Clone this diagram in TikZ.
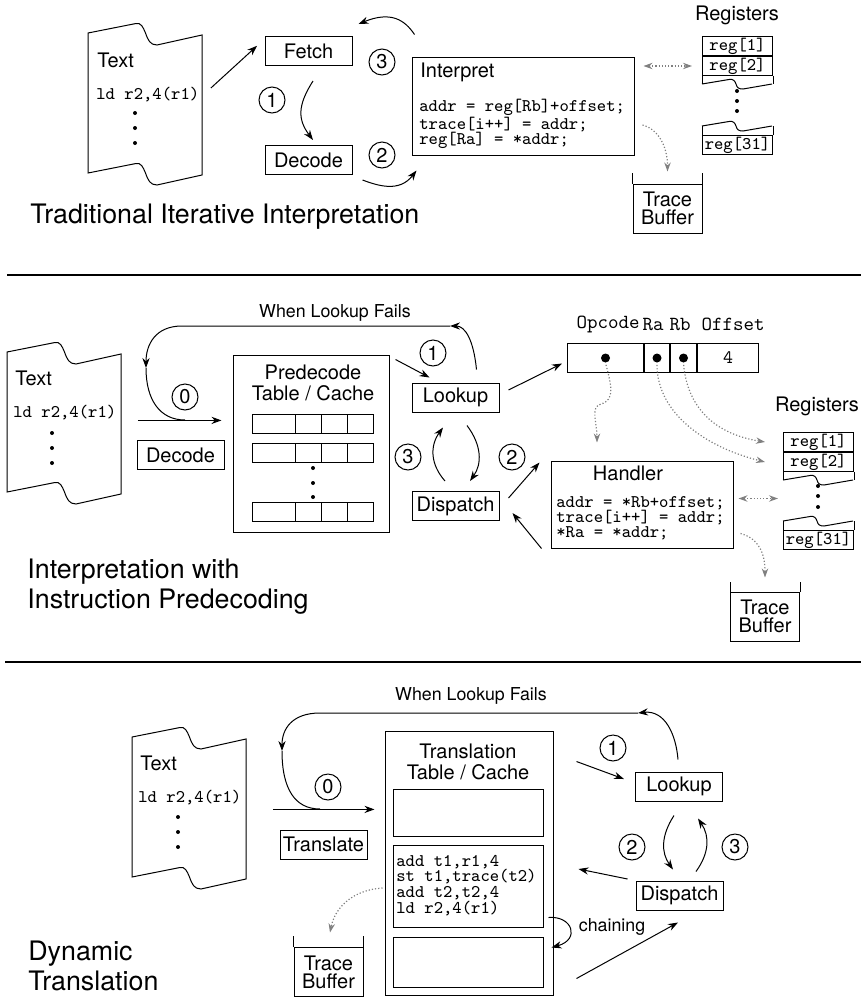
\documentclass[tikz,border=0pt]{standalone}
\usepackage{fontspec}
\setmainfont{TeX Gyre Heros}
\usepackage{tikz}
\usetikzlibrary{arrows.meta, positioning, calc}

% wavy outline of a page of text, drawn round an empty node
\newcommand{\paperoutline}[1]{%
  \draw[line width=0.5pt, shift={(#1.north west)}] (0,0) -- (48,-9.5)
    .. controls (53,-10.5) and (55,-6) .. (57.5,0)
    .. controls (60,7) and (62,12) .. (69,12) -- (114,2) -- (114,142)
    -- (69,152) .. controls (62,152) and (60,147) .. (57.5,140)
    .. controls (55,134) and (53,129.5) .. (48,130.5) -- (0,140) -- cycle;}
% torn edge of the register file
\newcommand{\tearline}[1]{%
  \draw[line width=0.5pt, shift={(#1)}] (0,0) -- (27,-4.5)
    .. controls (31,-5.5) and (33,-3) .. (34,0)
    .. controls (35,4) and (37,5) .. (41,5) -- (70,0);}

\tikzset{
    % boxes for the steps
    opbox/.style={draw, line width=0.5pt, inner sep=0pt,
        minimum width=43.5pt, minimum height=14.5pt,
        font=\fontsize{10}{12}\selectfont},
    % numbered circles
    stepnum/.style={circle, draw, line width=0.5pt, inner sep=0pt,
        minimum size=13pt, font=\fontsize{10}{12}\selectfont},
    bigbox/.style={draw, line width=0.5pt, inner sep=0pt},
    paper/.style={anchor=north west, inner sep=0pt,
        minimum width=57pt, minimum height=70pt},
    regcell/.style={draw, line width=0.5pt, inner sep=0pt,
        minimum width=35pt, minimum height=9.5pt,
        font=\fontsize{8.9}{10}\selectfont\ttfamily},
    fieldcell/.style={draw, line width=0.5pt, inner sep=0pt,
        minimum height=14.5pt, font=\fontsize{9.5}{10}\selectfont\ttfamily},
    fielddot/.style={circle, fill, inner sep=0pt, minimum size=4.5pt},
    fieldlabel/.style={inner sep=0pt, font=\fontsize{10}{12}\selectfont\ttfamily},
    buffer/.style={draw, line width=0.5pt, inner sep=0pt, align=center,
        minimum width=34.5pt, minimum height=24.5pt,
        font=\fontsize{10}{9}\selectfont},
    codetext/.style={inner sep=0pt, align=left,
        font=\fontsize{8.9}{7.6}\selectfont\ttfamily},
    boxlabel/.style={inner sep=0pt, font=\fontsize{10}{12}\selectfont},
    smalllabel/.style={inner sep=0pt, font=\fontsize{8.9}{10}\selectfont},
    sectitle/.style={inner sep=0pt, anchor=west, align=left,
        font=\fontsize{13.4}{15}\selectfont},
    % arrows
    arrow/.style={-{Stealth[length=5pt, width=3.6pt]}, line width=0.5pt},
    dotarrow/.style={-{Stealth[length=4.5pt, width=3.2pt]}, densely dotted,
        draw=gray, line width=0.6pt},
    dotboth/.style={dotarrow,
        {Stealth[length=4.5pt, width=3.2pt]}-{Stealth[length=4.5pt, width=3.2pt]}},
}

\begin{document}
\begin{tikzpicture}[x=0.5pt, y=-0.5pt]
    \useasboundingbox (0,0) rectangle (861,997);

    % ---------- traditional iterative interpretation ----------
    \node[paper] (paperA) at (88,33) {};
    \paperoutline{paperA}
    \node[boxlabel, anchor=west] (textA) at ([shift={(9,27)}]paperA.north west) {Text};
    \node[codetext, anchor=west] (ldA) at ([shift={(8,62)}]paperA.north west) {ld r2,4(r1)};
    \foreach \d in {80,95,110} \fill ([shift={(47,\d)}]paperA.north west) circle (1pt);

    \node[opbox] (fetchA) at (308.5,51) {Fetch};
    \node[opbox] (decodeA) at (308.5,160) {Decode};
    \node[stepnum] (oneA) at (272,100) {1};
    \node[stepnum] (twoA) at (382,155) {2};
    \node[stepnum] (threeA) at (382,62) {3};

    \node[bigbox, minimum width=111pt, minimum height=49pt] (interpA) at (523,106) {};
    \node[boxlabel, anchor=west] (interpT) at (420,72) {Interpret};
    \node[codetext, anchor=west] (interpC) at (419,124)
        {addr = reg[Rb]+offset;\\trace[i++] = addr;\\reg[Ra] = *addr;};

    \node[boxlabel] (regsA) at (737,15) {Registers};
    \node[regcell, anchor=north west] (regA1) at (702,36) {reg[1]};
    \node[regcell, anchor=north] (regA2) at (regA1.south) {reg[2]};
    \draw[line width=0.5pt] (regA2.south west) -- ++(0,8) coordinate (tearA1);
    \draw[line width=0.5pt] (regA2.south east) -- ++(0,8);
    \tearline{tearA1}
    \foreach \d in {91,101,111} \fill (737,\d) circle (1pt);
    \node[regcell, anchor=north west] (regA31) at (702,135) {reg[31]};
    \draw[line width=0.5pt] (regA31.north west) -- ++(0,-9) coordinate (tearA2);
    \draw[line width=0.5pt] (regA31.north east) -- ++(0,-9);
    \tearline{tearA2}

    \node[buffer] (bufA) at (667.5,208.5) {Trace\\Buffer};
    \draw[line width=0.5pt] (bufA.north west) -- ++(0,-11);
    \draw[line width=0.5pt] (bufA.north east) -- ++(0,-11);

    \draw[arrow, shorten <=5.5pt, shorten >=5pt] ([yshift=4pt]paperA.east) -- ([yshift=6pt]fetchA.west);
    \draw[arrow] ([shift={(4.5,15)}]fetchA.south) .. controls +(-16,25) and +(-15,-20) .. ([shift={(4.5,-5)}]decodeA.north);
    \draw[arrow] ([shift={(10,5)}]decodeA.south east) .. controls +(16,6) and +(-17,22) .. ([shift={(5,15)}]interpA.south west);
    \draw[arrow] ([shift={(3,-22)}]interpA.north west) .. controls +(-10,-15) and +(32,-13) .. ([shift={(6,-12)}]fetchA.north east);
    \draw[dotboth, shorten <=4.5pt, shorten >=5pt] (interpA.east |- regA2.west) -- (regA2.west);
    \draw[dotarrow] ([shift={(8,19)}]interpA.east) .. controls +(18,5) and +(0,-22) .. ([yshift=6pt]bufA.north);

    \node[sectitle] (titleA) at (30,217) {Traditional Iterative Interpretation};
    \draw[line width=0.7pt] (7,275) -- (861,275);

    % ---------- interpretation with predecoding ----------
    \node[paper] (paperB) at (7,352) {};
    \paperoutline{paperB}
    \node[boxlabel, anchor=west] (textB) at ([shift={(8,26)}]paperB.north west) {Text};
    \node[codetext, anchor=west] (ldB) at ([shift={(6,61)}]paperB.north west) {ld r2,4(r1)};
    \foreach \d in {81,96,111} \fill ([shift={(45,\d)}]paperB.north west) circle (1pt);

    \node[opbox] (decodeB) at (180.5,455) {Decode};
    \node[stepnum] (zeroB) at (185,397) {0};

    \node[bigbox, minimum width=78pt, minimum height=88.5pt] (predecB) at (311,443.5) {};
    \node[boxlabel, align=center, font=\fontsize{10}{10.5}\selectfont] (predecT) at (313,383) {Predecode\\Table / Cache};
    \foreach \y in {414,443,502} {
        \draw[line width=0.5pt] (252,\y) rectangle (373,\y+19);
        \foreach \x in {295,321,347} \draw[line width=0.5pt] (\x,\y) -- (\x,\y+19);
    }
    \foreach \d in {468,483,497} \fill (313,\d) circle (1pt);

    \node[opbox] (lookupB) at (455.5,397.5) {Lookup};
    \node[opbox] (dispatchB) at (455.5,506) {Dispatch};
    \node[stepnum] (oneB) at (433,353) {1};
    \node[stepnum] (twoB) at (512,457) {2};
    \node[stepnum] (threeB) at (408,457) {3};

    \node[fieldcell, minimum width=38pt, anchor=north west] (opB) at (567,343) {};
    \node[fieldcell, minimum width=12.5pt, anchor=west] (raB) at (opB.east) {};
    \node[fieldcell, minimum width=13pt, anchor=west] (rbB) at (raB.east) {};
    \node[fieldcell, minimum width=30.5pt, anchor=west] (offB) at (rbB.east) {4};
    \node[fielddot] (dotOp) at (opB.center) {};
    \node[fielddot] (dotRa) at (raB.center) {};
    \node[fielddot] (dotRb) at (rbB.center) {};
    \node[fieldlabel] (labOp) at (608,324) {Opcode};
    \node[fieldlabel] (labRa) at (653,324) {Ra};
    \node[fieldlabel] (labRb) at (680,324) {Rb};
    \node[fieldlabel] (labOff) at (733,324) {Offset};

    \node[bigbox, minimum width=91pt, minimum height=43.5pt] (handlerB) at (642,504.5) {};
    \node[boxlabel] (handlerT) at (628,473) {Handler};
    \node[codetext, anchor=west] (handlerC) at (556,518)
        {addr = *Rb+offset;\\trace[i++] = addr;\\\relax *Ra = *addr;};

    \node[boxlabel] (regsB) at (817,406) {Registers};
    \node[regcell, anchor=north west] (regB1) at (783,432) {reg[1]};
    \node[regcell, anchor=north] (regB2) at (regB1.south) {reg[2]};
    \draw[line width=0.5pt] (regB2.south west) -- ++(0,8) coordinate (tearB1);
    \draw[line width=0.5pt] (regB2.south east) -- ++(0,8);
    \tearline{tearB1}
    \foreach \d in {486,496,507} \fill (818,\d) circle (1pt);
    \node[regcell, anchor=north west] (regB31) at (783,530) {reg[31]};
    \draw[line width=0.5pt] (regB31.north west) -- ++(0,-9) coordinate (tearB2);
    \draw[line width=0.5pt] (regB31.north east) -- ++(0,-9);
    \tearline{tearB2}

    \node[buffer] (bufB) at (765,616.5) {Trace\\Buffer};
    \draw[line width=0.5pt] (bufB.north west) -- ++(0,-10);
    \draw[line width=0.5pt] (bufB.north east) -- ++(0,-10);

    \coordinate (failB) at (450,326);
    \coordinate (backB) at (146,368);
    \coordinate (joinB) at (185,420);
    \coordinate (bendOp) at (601,404);
    \draw[arrow, shorten <=8pt, shorten >=5.5pt] ([yshift=1pt]paperB.east) -- ([yshift=1pt]paperB.east -| predecB.west);
    \draw[arrow] ([shift={(21,-13)}]lookupB.north) .. controls +(-3,-30) and +(15,0) .. (failB);
    \draw[arrow] (failB) -- ++(-268,0) .. controls +(-27,0) and +(0,-23) .. (backB);
    \draw[line width=0.5pt] (backB) .. controls +(0,32) and +(-25,0) .. (joinB);
    \node[smalllabel] (failTB) at (335,313) {When Lookup Fails};
    \draw[arrow] ([shift={(6,5)}]predecB.north east) -- ([shift={(18,-5)}]lookupB.north west);
    \draw[arrow] ([shift={(11.5,13)}]lookupB.south) .. controls +(15,20) and +(12,-17) .. ([shift={(14.5,-10)}]dispatchB.north);
    \draw[arrow] ([shift={(-10.5,-10)}]dispatchB.north) .. controls +(-15,-17) and +(-13,18) .. ([shift={(-12.5,15)}]lookupB.south);
    \draw[arrow] ([shift={(9,-8)}]dispatchB.east) -- ([shift={(-11,2)}]handlerB.north west);
    \draw[arrow] ([shift={(-9,0)}]handlerB.south west) -- ([shift={(13,7)}]dispatchB.east);
    \draw[arrow] ([shift={(9,-7.5)}]lookupB.east) -- ([shift={(-5,5.5)}]opB.west);

    \draw[dotarrow, shorten <=1pt] (dotOp.south) .. controls +(6,23) and +(14,-4) .. (bendOp)
        .. controls +(-11,3) and +(0,-20) .. ([shift={(-45,-18)}]handlerB.north);
    \draw[dotarrow, shorten <=1pt] (dotRa.south) .. controls +(0,50) and +(-60,-15) .. ([xshift=-9pt]regB2.west);
    \draw[dotarrow, shorten <=1pt] (dotRb.south) .. controls +(4,45) and +(-50,-8) .. ([xshift=-9pt]regB1.west);
    \draw[dotboth, shorten <=2.5pt, shorten >=2.5pt] ($(handlerB.east)+(0,-6)$) -- ($(handlerB.east -| regB1.west)+(0,-6)$);
    \draw[dotarrow] ([shift={(7,29)}]handlerB.east) .. controls +(18,5) and +(0,-25) .. ([yshift=7pt]bufB.north);

    \node[sectitle] (titleB) at (27,587) {Interpretation with\\Instruction Predecoding};
    \draw[line width=0.7pt] (5,662) -- (861,662);

    % ---------- dynamic translation ----------
    \node[paper] (paperC) at (132,737) {};
    \paperoutline{paperC}
    \node[boxlabel, anchor=west] (textC) at ([shift={(8,26)}]paperC.north west) {Text};
    \node[codetext, anchor=west] (ldC) at ([shift={(6,61)}]paperC.north west) {ld r2,4(r1)};
    \foreach \d in {80,95,110} \fill ([shift={(46,\d)}]paperC.north west) circle (1pt);

    \node[opbox] (translC) at (323.5,844.5) {Translate};
    \node[stepnum] (zeroC) at (328,787) {0};

    \node[bigbox, minimum width=84pt, minimum height=132pt] (transC) at (469,863) {};
    \node[boxlabel, align=center, font=\fontsize{10}{10.5}\selectfont] (transT) at (468,761.5) {Translation\\Table / Cache};
    \node[bigbox, minimum width=75pt, minimum height=23.5pt] (slotC1) at (468,812.5) {};
    \node[bigbox, minimum width=75pt, minimum height=41pt] (slotC2) at (468,886) {};
    \node[bigbox, minimum width=75pt, minimum height=25pt] (slotC3) at (468,962) {};
    \node[codetext, anchor=west, font=\fontsize{8.9}{7.85}\selectfont\ttfamily] (slotCode) at (396,885.5)
        {add t1,r1,4\\st t1,trace(t2)\\add t2,t2,4\\ld r2,4(r1)};

    \node[opbox] (lookupC) at (679,786.5) {Lookup};
    \node[opbox] (dispatchC) at (679.5,895.5) {Dispatch};
    \node[stepnum] (oneC) at (613,748) {1};
    \node[stepnum] (twoC) at (632,847) {2};
    \node[stepnum] (threeC) at (735,847) {3};

    \node[buffer] (bufC) at (328.5,972) {Trace\\Buffer};
    \draw[line width=0.5pt] (bufC.north west) -- ++(0,-11);
    \draw[line width=0.5pt] (bufC.north east) -- ++(0,-11);

    \coordinate (failC) at (638,713);
    \coordinate (backC) at (282,751);
    \coordinate (joinC) at (320,809);
    \draw[arrow, shorten <=13pt, shorten >=5pt] ([yshift=-1pt]paperC.east) -- ([yshift=-1pt]paperC.east -| transC.west);
    \draw[arrow] ([shift={(-1,-12)}]lookupC.north) .. controls +(-2,-25) and +(27,-3) .. (failC);
    \draw[arrow] (failC) -- ++(-318,0) .. controls +(-28,0) and +(0,-22) .. (backC);
    \draw[line width=0.5pt] (backC) .. controls +(0,38) and +(-25,0) .. (joinC);
    \node[smalllabel] (failTC) at (471,696) {When Lookup Fails};
    \draw[arrow] ([shift={(23,31)}]transC.north east) -- ([shift={(-11,-7.5)}]lookupC.west);
    \draw[arrow] ([shift={(-5,14)}]lookupC.south) .. controls +(-13,20) and +(-12,-17) .. ([shift={(-6.5,-11)}]dispatchC.north);
    \draw[arrow] ([shift={(16.5,-9)}]dispatchC.north) .. controls +(13,-18) and +(12,18) .. ([shift={(19,17)}]lookupC.south);
    \draw[arrow] ([shift={(-8,-16.5)}]dispatchC.west) -- ([shift={(35,-17)}]slotC2.east);
    \draw[arrow] ([shift={(5,-10)}]slotC2.south east) .. controls +(24,-2) and +(29,-8) .. ([shift={(8,11)}]slotC3.north east);
    \node[smalllabel] (chainC) at (612,927) {chaining};
    \draw[arrow] ([shift={(23,-17)}]transC.south east) -- ([shift={(-1.5,12)}]dispatchC.south);
    \draw[dotarrow] ([shift={(-10,2)}]slotC2.west) .. controls +(-30,2) and +(5,-25) .. ([shift={(1.5,-14.5)}]bufC.north);

    \node[sectitle] (titleC) at (28,965.5) {Dynamic\\Translation};
\end{tikzpicture}
\end{document}
